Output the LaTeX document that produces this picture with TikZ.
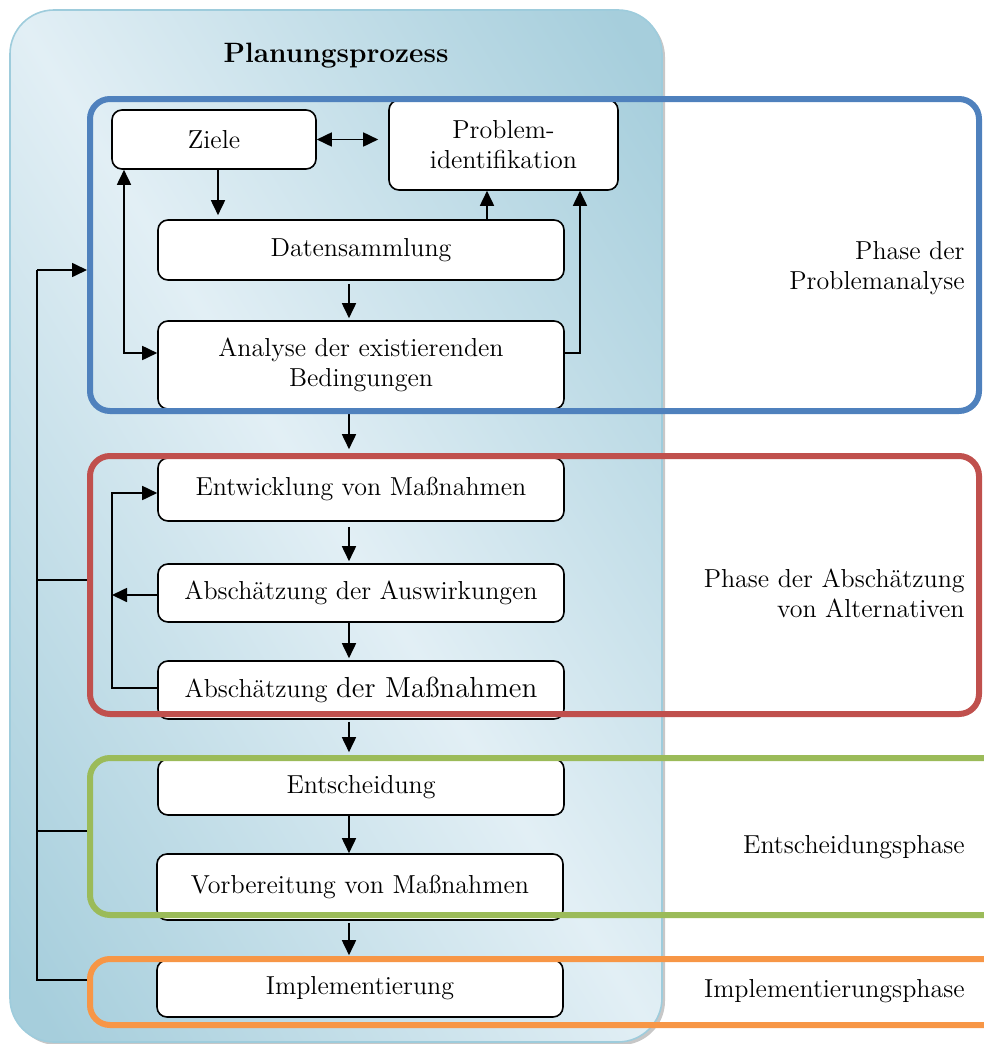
\documentclass[tikz,border=0pt]{standalone}
\usetikzlibrary{arrows.meta}

\definecolor{bgdark}{RGB}{166,206,220}
\definecolor{bglight}{RGB}{226,239,245}
\definecolor{bgedge}{RGB}{158,204,220}
\definecolor{pblue}{RGB}{79,129,189}
\definecolor{pred}{RGB}{192,80,77}
\definecolor{pgreen}{RGB}{155,187,89}
\definecolor{porange}{RGB}{247,150,70}

% diagonal band: dark at two opposite corners, light through the middle
\pgfdeclarehorizontalshading{bgband}{100bp}{%
  color(0bp)=(bgdark); color(18bp)=(bgdark); color(50bp)=(bglight);
  color(82bp)=(bgdark); color(100bp)=(bgdark)}

\begin{document}
\begin{tikzpicture}[x=0.5pt,y=-0.5pt,
  txt/.style={font=\fontsize{13}{15}\selectfont},
  stepbox/.style={txt, draw=black, line width=0.8pt, fill=white,
    rounded corners=5pt, align=center, inner sep=0pt,
    minimum width=203pt},
  tip/.tip={Triangle[length=7.5pt,width=7pt]},
  flow/.style={-tip, line width=0.85pt},
  biflow/.style={tip-tip, line width=0.85pt},
  link/.style={line width=0.85pt},
  phasebox/.style={rectangle, line width=3pt, rounded corners=10pt,
    inner sep=0pt},
  phaselabel/.style={txt, align=right, anchor=east, inner sep=0pt}]

\useasboundingbox (0,0) rectangle (984,1044);

% process background panel with a soft shadow
\fill[black!40, opacity=0.55, rounded corners=22pt] (13,13) rectangle (665,1045);
\shade[shading=bgband, shading angle=32, draw=bgedge, line width=0.8pt,
  rounded corners=22pt] (10,10) rectangle (662,1042);

\node[font=\fontsize{14}{17}\selectfont\bfseries, anchor=base] (title)
  at (336,62) {Planungsprozess};

% process steps
\node[stepbox, minimum width=102pt, minimum height=29.5pt] (ziele) at (214,139.5) {Ziele};
\node[stepbox, minimum width=114.5pt, minimum height=45pt] (prob) at (503.5,145) {Problem-\\identifikation};
\node[stepbox, minimum height=30pt] (daten) at (361,250) {Datensammlung};
\node[stepbox, minimum height=44pt] (analyse) at (361,365) {Analyse der existierenden\\Bedingungen};
\node[stepbox, minimum height=31.5pt] (entw) at (361,489.5) {Entwicklung von Maßnahmen};
\node[stepbox, minimum height=29pt] (ausw) at (361,593) {Abschätzung der Auswirkungen};
\node[stepbox, minimum height=29pt] (abschm) at (361,690) {\raisebox{-1.5pt}{Abschätzung {\fontsize{14.5}{15}\selectfont der Maßnahmen}}};
\node[stepbox, minimum height=28pt] (entsch) at (361,787) {\raisebox{-2.5pt}{Entscheidung}};
\node[stepbox, minimum height=33pt] (vorb) at (360,887) {\raisebox{-1.5pt}{Vorbereitung von Maßnahmen}};
\node[stepbox, minimum height=28.5pt] (impl) at (360,988.5) {\raisebox{-2.5pt}{Implementierung}};

% flow within the problem analysis
\draw[biflow] (ziele.east) -- ([xshift=-5pt]prob.west |- ziele.east);
\draw[flow] (ziele.south -| 218,0) -- ([yshift=2pt]daten.north -| 218,0);
\draw[flow] (daten.north -| 487,0) -- (prob.south -| 487,0);
\coordinate (zl) at (124,353);
\draw[biflow] (ziele.south -| zl) -- (zl) -- (analyse.west |- zl);
\coordinate (ar) at (580,353);
\draw[flow] (analyse.east |- ar) -- (ar) -- (prob.south -| ar);
\draw[flow] ([yshift=-1.5pt]daten.south -| 349,0) -- ([yshift=1pt]analyse.north -| 349,0);

% main chain between phases
\draw[flow] ([yshift=-2pt]analyse.south -| 349,0) -- ([yshift=4pt]entw.north -| 349,0);
\draw[flow] ([yshift=-2.5pt]entw.south -| 349,0) -- ([yshift=1pt]ausw.north -| 349,0);
\draw[flow] (ausw.south -| 349,0) -- ([yshift=1pt]abschm.north -| 349,0);
\draw[flow] ([yshift=-1pt]abschm.south -| 349,0) -- ([yshift=3pt]entsch.north -| 349,0);
\draw[flow] (entsch.south -| 349,0) -- (vorb.north -| 349,0);
\draw[flow] ([yshift=-1pt]vorb.south -| 349,0) -- ([yshift=2pt]impl.north -| 349,0);

% loop inside the assessment phase
\coordinate (ll) at (112,595);
\draw[flow] (ausw.west |- ll) -- (ll);
\draw[flow] (abschm.west |- 0,688) -- (112,688) -- (112,493) -- (entw.west |- 0,493);

% phase frames
\node[phasebox, draw=pblue, minimum width=444.5pt, minimum height=156pt] (fblue) at (534.5,255) {};
\node[phasebox, draw=pred, minimum width=444.5pt, minimum height=129pt] (fred) at (534.5,585) {};
\node[phasebox, draw=pgreen, minimum width=460pt, minimum height=78.5pt] (fgreen) at (550,836.5) {};
\node[phasebox, draw=porange, minimum width=460pt, minimum height=33pt] (forange) at (550,992) {};

% feedback from every later phase to the problem analysis
\coordinate (fbtop) at (37,270);
\coordinate (fbbot) at (37,980);
\draw[link] ([yshift=6pt]forange.west) -- (fbbot) -- (fbtop);
\draw[flow] (fbtop) -- ([yshift=-7.5pt]fblue.west);
\draw[link] ([yshift=2.5pt]fred.west) -- (fbtop |- 0,580);
\draw[link] ([yshift=2.75pt]fgreen.west) -- (fbtop |- 0,831);

% phase names
\node[phaselabel] (lblue) at (965,268) {Phase der\\Problemanalyse};
\node[phaselabel] (lred) at (965,593) {Phase der Abschätzung\\von Alternativen};
\node[phaselabel] (lgreen) at (965,847) {Entscheidungsphase};
\node[phaselabel] (lorange) at (965,991) {Implementierungsphase};
\end{tikzpicture}
\end{document}
